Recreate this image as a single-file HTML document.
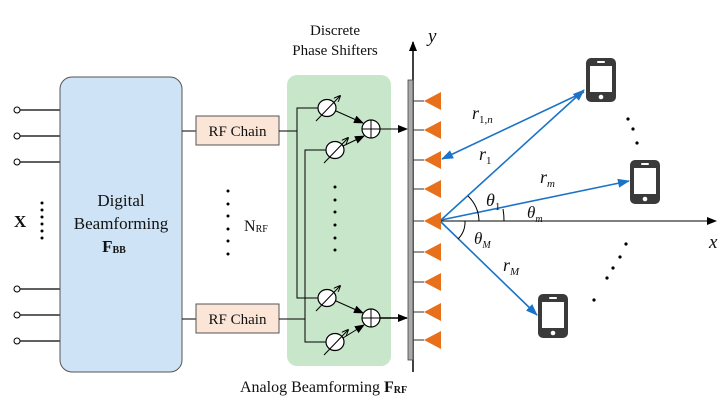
<!DOCTYPE html>
<html><head><style>
body{margin:0;background:#fff}
svg{display:block}
text{font-family:"Liberation Serif",serif;fill:#111}
</style></head><body>
<svg width="726" height="417" viewBox="0 0 726 417" xmlns="http://www.w3.org/2000/svg">
<defs>
<marker id="ab" markerWidth="10" markerHeight="8" refX="9" refY="4" orient="auto" markerUnits="userSpaceOnUse"><path d="M0,0 L10,4 L0,8 z" fill="#000"/></marker>
<marker id="as" markerWidth="7" markerHeight="6" refX="6" refY="3" orient="auto" markerUnits="userSpaceOnUse"><path d="M0,0 L7,3 L0,6" fill="none" stroke="#000" stroke-width="1"/></marker>
<marker id="bl" markerWidth="12" markerHeight="9" refX="11" refY="4.5" orient="auto" markerUnits="userSpaceOnUse"><path d="M0,0 L12,4.5 L0,9 z" fill="#1a73c8"/></marker>
<g id="ps"><ellipse cx="0" cy="0" rx="9" ry="8.5" fill="#fff" stroke="#000" stroke-width="1.2"/><line x1="-11" y1="13" x2="13" y2="-12" stroke="#000" stroke-width="1" marker-end="url(#as)"/></g>
<g id="add"><circle cx="0" cy="0" r="9" fill="#fff" stroke="#000" stroke-width="1.2"/><line x1="-9" y1="0" x2="9" y2="0" stroke="#000"/><line x1="0" y1="-9" x2="0" y2="9" stroke="#000"/></g>
<path id="tri" d="M0,0 L17,-9 L17,9 z" fill="#e8701a"/>
<g id="phone"><rect x="0" y="0" width="30" height="44" rx="5" fill="#3a3a3a"/><rect x="4" y="8" width="22" height="26" fill="#fff"/><rect x="11" y="3" width="8" height="2" rx="1" fill="#fff"/><circle cx="15" cy="39" r="2.3" fill="#fff"/></g>
</defs>

<!-- inputs -->
<g stroke="#000" stroke-width="1.2">
<line x1="20" y1="110" x2="60" y2="110"/><line x1="20" y1="136" x2="60" y2="136"/><line x1="20" y1="162" x2="60" y2="162"/>
<line x1="20" y1="289" x2="60" y2="289"/><line x1="20" y1="315" x2="60" y2="315"/><line x1="20" y1="341" x2="60" y2="341"/>
</g>
<g fill="#fff" stroke="#000" stroke-width="1">
<circle cx="17" cy="110" r="3"/><circle cx="17" cy="136" r="3"/><circle cx="17" cy="162" r="3"/>
<circle cx="17" cy="289" r="3"/><circle cx="17" cy="315" r="3"/><circle cx="17" cy="341" r="3"/>
</g>
<g fill="#000"><circle cx="42" cy="203" r="1.5"/><circle cx="42" cy="210" r="1.5"/><circle cx="42" cy="217" r="1.5"/><circle cx="42" cy="224" r="1.5"/><circle cx="42" cy="231" r="1.5"/><circle cx="42" cy="238" r="1.5"/></g>
<text x="14" y="227" font-size="17" font-weight="bold">X</text>

<!-- digital box -->
<rect x="60" y="77" width="122" height="295" rx="12" fill="#cfe3f6" stroke="#555" stroke-width="1"/>
<text x="121" y="206" font-size="17" text-anchor="middle">Digital</text>
<text x="121" y="229" font-size="17" text-anchor="middle">Beamforming</text>
<text x="114" y="252" font-size="17" text-anchor="middle" font-weight="bold">F<tspan font-size="10" dy="1">BB</tspan></text>

<!-- RF chains -->
<line x1="182" y1="131" x2="196" y2="131" stroke="#000"/>
<line x1="182" y1="319" x2="196" y2="319" stroke="#000"/>
<rect x="196" y="116" width="83" height="29" fill="#fbe5d6" stroke="#555"/>
<rect x="196" y="304" width="83" height="29" fill="#fbe5d6" stroke="#555"/>
<text x="237.5" y="136" font-size="15" text-anchor="middle">RF Chain</text>
<text x="237.5" y="324" font-size="15" text-anchor="middle">RF Chain</text>
<g fill="#000"><circle cx="228" cy="191" r="1.5"/><circle cx="228" cy="204" r="1.5"/><circle cx="228" cy="216" r="1.5"/><circle cx="228" cy="229" r="1.5"/><circle cx="228" cy="241" r="1.5"/><circle cx="228" cy="254" r="1.5"/></g>
<text x="244" y="231" font-size="16">N<tspan font-size="10" dy="1">RF</tspan></text>

<!-- analog box -->
<rect x="287" y="75" width="104" height="291" rx="10" fill="#c8e6ca"/>
<text x="335" y="35" font-size="15" text-anchor="middle">Discrete</text>
<text x="335" y="55" font-size="15" text-anchor="middle">Phase Shifters</text>
<text x="240" y="392" font-size="16">Analog Beamforming <tspan font-weight="bold">F</tspan><tspan font-size="10" font-weight="bold" dy="1">RF</tspan></text>

<g stroke="#000" stroke-width="1" fill="none">
<polyline points="279,131 297,131"/>
<polyline points="318,108 297,108 297,298 318,298"/>
<polyline points="279,319 305,319"/>
<polyline points="326,150 305,150 305,342 326,342"/>
<line x1="336" y1="111" x2="363" y2="123" marker-end="url(#ab)"/>
<line x1="343" y1="146" x2="364" y2="136" marker-end="url(#ab)"/>
<line x1="336" y1="301" x2="363" y2="313" marker-end="url(#ab)"/>
<line x1="343" y1="338" x2="364" y2="325" marker-end="url(#ab)"/>
<line x1="380" y1="129" x2="407" y2="129" marker-end="url(#ab)"/>
<line x1="380" y1="318" x2="407" y2="318" stroke-width="1.5" marker-end="url(#ab)"/>
</g>
<use href="#ps" x="327" y="108"/>
<use href="#ps" x="335" y="150"/>
<use href="#ps" x="327" y="298"/>
<use href="#ps" x="335" y="342"/>
<use href="#add" x="371" y="129"/>
<use href="#add" x="371" y="318"/>
<g fill="#000"><circle cx="335" cy="187" r="1.5"/><circle cx="335" cy="200" r="1.5"/><circle cx="335" cy="212" r="1.5"/><circle cx="335" cy="225" r="1.5"/><circle cx="335" cy="238" r="1.5"/><circle cx="335" cy="250" r="1.5"/></g>

<!-- array -->
<line x1="413" y1="372" x2="413" y2="42" stroke="#000" stroke-width="1.5" marker-end="url(#ab)"/>
<rect x="408" y="80" width="5" height="280" fill="#aaa" stroke="#444" stroke-width="0.8"/>
<text x="428" y="42" font-size="19" font-style="italic">y</text>
<g stroke="#333" stroke-width="1">
<line x1="413" y1="101" x2="424" y2="101"/><line x1="413" y1="130" x2="424" y2="130"/><line x1="413" y1="160" x2="424" y2="160"/><line x1="413" y1="189" x2="424" y2="189"/><line x1="413" y1="221" x2="424" y2="221"/><line x1="413" y1="252" x2="424" y2="252"/><line x1="413" y1="282" x2="424" y2="282"/><line x1="413" y1="312" x2="424" y2="312"/><line x1="413" y1="340" x2="424" y2="340"/>
</g>
<use href="#tri" x="424" y="101"/><use href="#tri" x="424" y="130"/><use href="#tri" x="424" y="160"/><use href="#tri" x="424" y="189"/><use href="#tri" x="424" y="221"/><use href="#tri" x="424" y="252"/><use href="#tri" x="424" y="282"/><use href="#tri" x="424" y="312"/><use href="#tri" x="424" y="340"/>

<!-- x axis -->
<line x1="441" y1="221" x2="716" y2="221" stroke="#000" stroke-width="1" marker-end="url(#ab)"/>
<text x="709" y="248" font-size="19" font-style="italic">x</text>

<!-- rays -->
<g stroke="#1a73c8" stroke-width="1.6">
<line x1="441" y1="220" x2="584" y2="90" marker-end="url(#bl)"/>
<line x1="584" y1="92" x2="442" y2="159" marker-end="url(#bl)"/>
<line x1="441" y1="220" x2="629" y2="181" marker-end="url(#bl)"/>
<line x1="441" y1="222" x2="537" y2="315" marker-end="url(#bl)"/>
</g>
<g fill="none" stroke="#000" stroke-width="1">
<path d="M468,196 A36,36 0 0 1 479,221"/>
<path d="M503,209 A62,62 0 0 1 504,221"/>
<path d="M465,221 A24,24 0 0 1 458,239"/>
</g>
<text x="472" y="119" font-size="18" font-style="italic">r<tspan font-size="11" font-style="normal" dy="4">1,</tspan><tspan font-size="11" dy="0">n</tspan></text>
<text x="479" y="160" font-size="18" font-style="italic">r<tspan font-size="11" font-style="normal" dy="4">1</tspan></text>
<text x="540" y="183" font-size="18" font-style="italic">r<tspan font-size="11" dy="4">m</tspan></text>
<text x="486" y="206" font-size="18" font-style="italic">θ<tspan font-size="11" font-style="normal" dy="4">1</tspan></text>
<text x="527" y="218" font-size="17" font-style="italic">θ<tspan font-size="10" dy="4">m</tspan></text>
<text x="474" y="244" font-size="17" font-style="italic">θ<tspan font-size="10" dy="4">M</tspan></text>
<text x="503" y="271" font-size="18" font-style="italic">r<tspan font-size="11" dy="4">M</tspan></text>

<use href="#phone" x="586" y="58"/>
<use href="#phone" x="630" y="160"/>
<use href="#phone" x="538" y="294"/>
<g fill="#000">
<circle cx="628" cy="119" r="1.6"/><circle cx="633" cy="129" r="1.6"/><circle cx="637" cy="143" r="1.6"/>
<circle cx="626" cy="244" r="1.6"/><circle cx="620" cy="257" r="1.6"/><circle cx="613" cy="268" r="1.6"/><circle cx="607" cy="278" r="1.6"/><circle cx="594" cy="300" r="1.6"/>
</g>
</svg>
</body></html>
